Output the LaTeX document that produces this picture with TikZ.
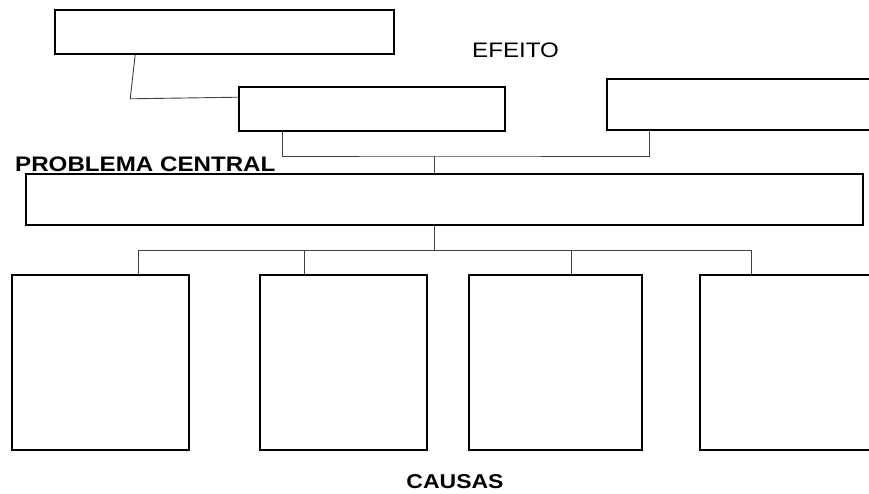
\documentclass[tikz,border=0pt]{standalone}
\usepackage{fontspec}
\setmainfont{Liberation Sans}
\newfontfamily\lblfont[FakeStretch=1.15]{Liberation Sans}
\begin{document}
\begin{tikzpicture}[x=1pt,y=-1pt,
    box/.style={draw, line width=1.6pt, rectangle, inner sep=0pt},
    link/.style={draw, line width=0.9pt, black!75}]
    % Fix the page size and cut off the boxes on the right edge
    \useasboundingbox (0,0) rectangle (869,493);
    \fill[white] (0,0) rectangle (869,493);
    \clip (0,0) rectangle (869,493);

    % Draw the effect boxes
    \node[box, minimum width=339pt, minimum height=44pt] (efeito1) at (224.5,32) {};
    \node[box, minimum width=266pt, minimum height=44pt] (efeito2) at (372,109) {};
    \node[box, minimum width=278pt, minimum height=51pt] (efeito3) at (746,104.5) {};

    % Draw the central problem box
    \node[box, minimum width=837pt, minimum height=51pt] (problema) at (444.5,199.5) {};

    % Draw the cause boxes
    \node[box, minimum width=177pt, minimum height=175pt] (causa1) at (100.5,362.5) {};
    \node[box, minimum width=167pt, minimum height=175pt] (causa2) at (343.5,362.5) {};
    \node[box, minimum width=173pt, minimum height=175pt] (causa3) at (555.5,362.5) {};
    \node[box, minimum width=185pt, minimum height=175pt] (causa4) at (792.5,362.5) {};

    % Add the labels
    \node[anchor=base west, inner sep=0pt, font=\lblfont\fontsize{21}{24}\selectfont] (efeito) at (472,57) {EFEITO};
    \node[anchor=base west, inner sep=0pt, font=\lblfont\bfseries\fontsize{21}{24}\selectfont] (central) at (15,171) {PROBLEMA CENTRAL};
    \node[anchor=base, inner sep=0pt, font=\lblfont\bfseries\fontsize{20}{24}\selectfont] (causas) at (455,488) {CAUSAS};

    % Connect the effects to the central problem
    \draw[link] ([xshift=81pt]efeito1.south west) -- ++(-5,44) -- ([yshift=-11pt]efeito2.north west);
    \coordinate (junc) at (434,156);
    \draw[link] ([xshift=44pt]efeito2.south west) |- (junc) -| ([xshift=43pt]efeito3.south west);
    \draw[link] (junc) -- (junc |- problema.north);

    % Connect the central problem to the causes
    \coordinate (bus) at (434,250);
    \coordinate (d1) at (138,250);
    \coordinate (d2) at (304,250);
    \coordinate (d3) at (571,250);
    \coordinate (d4) at (751,250);
    \draw[link] (bus |- problema.south) -- (bus);
    \draw[link] (d1) -- (d4);
    \foreach \i in {1,...,4}
        \draw[link] (d\i) -- (d\i |- causa\i.north);

\end{tikzpicture}
\end{document}
